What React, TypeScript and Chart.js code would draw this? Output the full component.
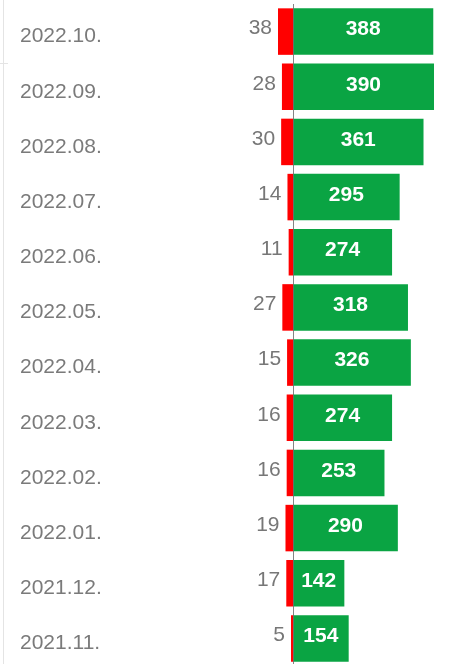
import React, { useEffect, useRef } from "react";
import { Chart, registerables } from "chart.js";

Chart.register(...registerables);

const categories = [
  "2022.10.", "2022.09.", "2022.08.", "2022.07.", "2022.06.", "2022.05.",
  "2022.04.", "2022.03.", "2022.02.", "2022.01.", "2021.12.", "2021.11.",
];
const redValues = [38, 28, 30, 14, 11, 27, 15, 16, 16, 19, 17, 5];
const greenValues = [388, 390, 361, 295, 274, 318, 326, 274, 253, 290, 142, 154];

const FONT = "'Liberation Sans', Arial, sans-serif";

const decorPlugin = {
  id: "decor",
  beforeDraw(chart: any) {
    const ctx = chart.ctx;
    ctx.save();
    ctx.strokeStyle = "#e4e4e4";
    ctx.lineWidth = 1;
    ctx.beginPath();
    ctx.moveTo(3.5, 0);
    ctx.lineTo(3.5, chart.height);
    ctx.moveTo(0, 63.5);
    ctx.lineTo(8, 63.5);
    ctx.stroke();
    ctx.restore();
  },
  afterDatasetsDraw(chart: any) {
    const ctx = chart.ctx;
    const area = chart.chartArea;
    const x0 = Math.round(chart.scales.x.getPixelForValue(0)) + 0.5;
    ctx.save();
    ctx.strokeStyle = "rgba(110,110,110,0.85)";
    ctx.lineWidth = 1;
    ctx.beginPath();
    ctx.moveTo(x0, area.top);
    ctx.lineTo(x0, area.bottom);
    ctx.stroke();

    const redMeta = chart.getDatasetMeta(0);
    const greenMeta = chart.getDatasetMeta(1);
    ctx.font = `21px ${FONT}`;
    ctx.fillStyle = "#777777";
    ctx.textAlign = "right";
    ctx.textBaseline = "middle";
    redMeta.data.forEach((bar: any, i: number) => {
      ctx.fillText(String(redValues[i]), bar.x - 6, bar.y - 3);
    });
    ctx.font = `bold 21px ${FONT}`;
    ctx.fillStyle = "#ffffff";
    ctx.textAlign = "center";
    greenMeta.data.forEach((bar: any, i: number) => {
      ctx.fillText(String(greenValues[i]), (bar.x + bar.base) / 2, bar.y - 2);
    });
    ctx.restore();
  },
};

export default function App() {
  const ref = useRef<HTMLCanvasElement | null>(null);

  useEffect(() => {
    document.body.style.margin = "0";
    const chart = new Chart(ref.current as HTMLCanvasElement, {
      type: "bar",
      data: {
        labels: categories,
        datasets: [
          {
            label: "red",
            data: redValues.map((v) => -v),
            backgroundColor: "#ff0000",
            xAxisID: "x2",
            grouped: false,
            barPercentage: 0.843,
            categoryPercentage: 1,
          } as any,
          {
            label: "green",
            data: greenValues,
            backgroundColor: "#0aa443",
            xAxisID: "x",
            grouped: false,
            barPercentage: 0.843,
            categoryPercentage: 1,
          } as any,
        ],
      },
      options: {
        indexAxis: "y",
        animation: false,
        responsive: false,
        maintainAspectRatio: false,
        layout: { padding: { left: 20, right: 9, top: 4, bottom: 0 } },
        plugins: { legend: { display: false }, tooltip: { enabled: false } },
        scales: {
          x: {
            display: false,
            min: -478.6,
            max: 406.6,
          },
          x2: {
            display: false,
            min: -438,
            max: 372.2,
          },
          y: {
            grid: { display: false },
            border: { display: false },
            ticks: {
              crossAlign: "far",
              labelOffset: 5,
              color: "#7a7a7a",
              font: { family: FONT, size: 21 },
            },
            afterFit(scale: any) {
              scale.width = 100;
              scale.paddingTop = 0;
              scale.paddingBottom = 0;
            },
          },
        },
      },
      plugins: [decorPlugin],
    } as any);
    return () => chart.destroy();
  }, []);

  return <canvas ref={ref} width={449} height={666} style={{ display: "block" }} />;
}
